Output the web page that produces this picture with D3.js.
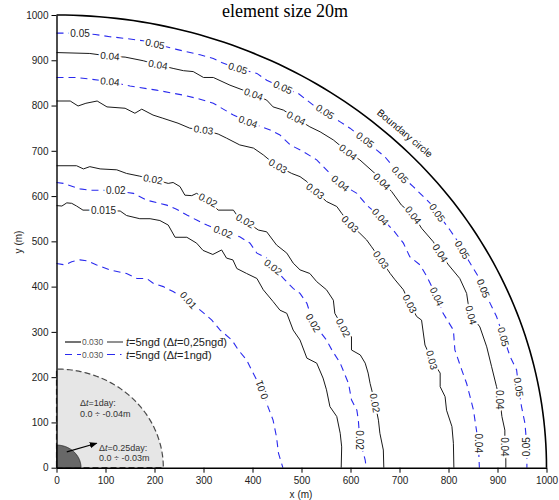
<!DOCTYPE html>
<html>
<head>
<meta charset="utf-8">
<script src="https://cdn.jsdelivr.net/npm/d3@7"></script>
<style>
  body { margin: 0; background: #fff; }
  text { font-family: Arial, "Liberation Sans", sans-serif; }
</style>
</head>
<body>
<script>
// contour lines in metres
// solid = t=5ngd (dt=0.25ngd), dashed = t=5ngd (dt=1ngd)
var solid015 = [[0,579],[11,578],[21,585],[31,584],[41,578],[54,569],[68,569],[97,568],[130,567],[143,557],[170,550],[191,550],[211,546],[228,536],[242,509],[266,509],[286,496],[299,480],[319,471],[337,481],[347,463],[360,459],[368,440],[388,429],[409,418],[422,393],[442,367],[456,348],[470,341],[483,304],[497,282],[511,242],[531,231],[544,198],[551,172],[558,135],[572,113],[579,76],[582,46],[581,0]];
var solid02 = [[0,667],[41,667],[55,660],[68,665],[89,660],[123,658],[143,650],[170,644],[197,637],[228,628],[238,630],[252,621],[262,602],[276,601],[286,606],[309,591],[330,569],[361,569],[368,558],[385,545],[412,525],[429,521],[449,492],[470,474],[483,452],[497,437],[517,429],[531,411],[551,393],[565,370],[568,341],[585,309],[602,289],[602,260],[620,249],[630,231],[636,209],[640,186],[650,143],[657,105],[660,76],[667,39],[668,0]];
var solid03 = [[0,810],[28,810],[44,799],[60,805],[83,810],[103,797],[140,794],[160,783],[174,792],[197,779],[217,772],[248,761],[272,750],[300,746],[330,737],[347,728],[374,713],[402,706],[422,691],[432,682],[452,666],[480,650],[497,643],[511,632],[528,611],[551,588],[572,577],[582,562],[599,538],[619,518],[633,503],[643,488],[662,459],[681,429],[691,415],[708,393],[721,362],[735,334],[745,326],[752,271],[766,238],[783,209],[783,179],[793,157],[796,127],[807,91],[810,54],[811,0]];
var solid04 = [[0,917],[68,915],[109,909],[140,907],[177,899],[207,890],[238,882],[259,877],[279,875],[300,862],[320,862],[354,845],[381,834],[402,825],[429,812],[442,797],[463,790],[489,772],[517,753],[538,742],[565,724],[595,697],[619,680],[653,647],[664,632],[684,610],[704,580],[728,558],[745,529],[769,499],[783,474],[800,448],[823,418],[837,385],[840,363],[846,337],[864,311],[878,267],[888,223],[898,179],[905,150],[909,113],[915,83],[915,46],[917,17],[917,0]];

var dashed01 = [[0,451],[17,448],[31,455],[48,459],[62,457],[82,448],[109,437],[143,429],[164,418],[184,418],[198,407],[218,400],[238,389],[269,370],[300,342],[317,326],[334,304],[358,282],[371,260],[388,238],[398,216],[419,172],[429,142],[442,105],[449,68],[453,32],[462,0]];
var dashed02 = [[0,630],[14,628],[48,616],[68,613],[96,613],[121,612],[157,606],[184,591],[225,580],[245,571],[266,558],[286,547],[307,536],[340,521],[374,510],[395,496],[409,474],[429,463],[442,443],[466,415],[483,396],[497,385],[511,363],[524,320],[551,282],[562,260],[579,231],[596,186],[602,150],[613,127],[616,105],[619,61],[630,17],[632,0]];
var dashed04 = [[0,862],[41,862],[109,853],[150,843],[204,834],[259,823],[293,814],[320,805],[361,779],[391,764],[436,746],[456,735],[477,713],[504,698],[531,680],[558,650],[579,628],[613,606],[633,580],[661,554],[687,525],[708,496],[721,466],[742,448],[756,422],[776,378],[789,341],[810,304],[813,260],[827,216],[837,186],[844,157],[851,127],[861,54],[863,0]];
var dashed05 = [[0,960],[24,960],[48,959],[79,957],[109,952],[143,948],[177,943],[201,936],[245,924],[293,912],[320,904],[337,895],[370,882],[409,871],[429,856],[462,840],[493,827],[524,801],[548,786],[579,764],[599,750],[630,724],[653,702],[670,687],[701,647],[728,621],[769,577],[777,563],[803,525],[817,503],[828,481],[844,452],[861,422],[871,396],[885,363],[898,334],[912,289],[926,245],[939,216],[943,178],[949,135],[956,98],[960,46],[960,0]];

// contour labels: [x, y, angle]
var solid015Labels = [[96,568,0]];
var solid02Labels = [[197,637,10],[309,591,28],[385,545,30],[585,309,62],[650,143,80]];
var solid03Labels = [[300,746,8],[452,666,30],[528,611,37],[599,538,45],[662,459,55],[721,362,63],[766,238,75]];
var solid04Labels = [[109,909,5],[207,890,10],[402,825,20],[489,772,28],[595,697,38],[664,632,45],[728,558,52],[783,474,58],[846,337,75],[905,150,90],[915,46,90]];
var dashed01Labels = [[269,370,48],[419,172,-110]];
var dashed02Labels = [[121,612,0],[340,521,22],[442,443,38],[524,320,60],[619,61,90]];
var dashed04Labels = [[109,853,5],[391,764,20],[579,628,40],[661,554,48],[776,378,65],[861,54,90]];
var dashed05Labels = [[48,959,0],[201,936,12],[370,882,18],[462,840,25],[548,786,33],[630,724,38],[701,647,48],[777,563,55],[828,481,60],[871,396,68],[912,289,75],[943,178,82],[960,46,-90]];

var xTicks = [0,100,200,300,400,500,600,700,800,900,1000];
var yTicks = [0,100,200,300,400,500,600,700,800,900,1000];
var boundaryRadius = 1000;
var zone1dayRadius = 218;
var zoneQuarterRadius = 50;

var solids = [
  { level: "0.015", pts: solid015, labels: solid015Labels },
  { level: "0.02", pts: solid02, labels: solid02Labels },
  { level: "0.03", pts: solid03, labels: solid03Labels },
  { level: "0.04", pts: solid04, labels: solid04Labels }
];
var dashes = [
  { level: "0.01", pts: dashed01, labels: dashed01Labels },
  { level: "0.02", pts: dashed02, labels: dashed02Labels },
  { level: "0.04", pts: dashed04, labels: dashed04Labels },
  { level: "0.05", pts: dashed05, labels: dashed05Labels }
];

var width = 559, height = 500;
var blue = "#2a2aee";
var xScale = d3.scaleLinear().domain([0, 1000]).range([56.5, 546.5]);
var yScale = d3.scaleLinear().domain([0, 1000]).range([467.7, 15]);

var svg = d3.select("body").append("svg")
  .attr("width", width)
  .attr("height", height);

// title at the top edge
svg.append("text")
  .attr("x", 285).attr("y", 17)
  .attr("text-anchor", "middle")
  .style("font-family", "'Liberation Serif', 'Times New Roman', serif")
  .style("font-size", "18px")
  .attr("fill", "#000")
  .text("element size 20m");

var line = d3.line().x(d => xScale(d[0])).y(d => yScale(d[1]));

function quarter(r) {
  return d3.range(0, 91, 1).map(t => [r * Math.cos(t * Math.PI / 180), r * Math.sin(t * Math.PI / 180)]);
}
function sector(r) {
  return [[0, 0]].concat(quarter(r)).concat([[0, 0]]);
}

// shaded zones near the origin
svg.append("path")
  .attr("d", line(sector(zone1dayRadius)))
  .attr("fill", "#e6e6e6")
  .attr("stroke", "#4a4a4a")
  .attr("stroke-width", 1.2)
  .attr("stroke-dasharray", "6,3");
svg.append("path")
  .attr("d", line(sector(zoneQuarterRadius)))
  .attr("fill", "#686868")
  .attr("stroke", "#222")
  .attr("stroke-width", 0.8);

// boundary circle
svg.append("path")
  .attr("d", line(quarter(boundaryRadius)))
  .attr("fill", "none")
  .attr("stroke", "#000")
  .attr("stroke-width", 1.6);
svg.append("text")
  .attr("transform", "translate(" + xScale(711) + "," + yScale(739) + ") rotate(40)")
  .attr("text-anchor", "middle")
  .attr("dy", "0.35em")
  .style("font-size", "10px")
  .attr("fill", "#111")
  .text("Boundary circle");

// contour lines
var g = svg.append("g");
g.selectAll(".solid").data(solids).enter().append("path")
  .attr("class", "solid")
  .attr("d", d => line(d.pts))
  .attr("fill", "none")
  .attr("stroke", "#1a1a1a")
  .attr("stroke-width", 1);
g.selectAll(".dash").data(dashes).enter().append("path")
  .attr("class", "dash")
  .attr("d", d => line(d.pts))
  .attr("fill", "none")
  .attr("stroke", blue)
  .attr("stroke-width", 1.1)
  .attr("stroke-dasharray", "7,5");

// contour labels with a white halo to break the line
var labelData = [];
solids.concat(dashes).forEach(c => c.labels.forEach(l => labelData.push({ text: c.level, p: l })));
g.selectAll(".clabel").data(labelData).enter().append("text")
  .attr("class", "clabel")
  .attr("transform", d => "translate(" + xScale(d.p[0]) + "," + yScale(d.p[1]) + ") rotate(" + d.p[2] + ")")
  .attr("text-anchor", "middle")
  .attr("dy", "0.35em")
  .style("font-size", "10px")
  .style("paint-order", "stroke")
  .attr("stroke", "#fff")
  .attr("stroke-width", 4)
  .attr("fill", "#222")
  .text(d => d.text);

// zone notes
var notes = svg.append("g").style("font-size", "9px").attr("fill", "#333");
notes.append("text").attr("x", 80).attr("y", 405.5)
  .html("&#916;<tspan font-style='italic'>t</tspan>=1day:");
notes.append("text").attr("x", 80).attr("y", 416.5).text("0.0 \u00f7 -0.04m");
notes.append("text").attr("x", 99).attr("y", 450.5)
  .html("&#916;<tspan font-style='italic'>t</tspan>=0.25day:");
notes.append("text").attr("x", 99).attr("y", 460.5).text("0.0 \u00f7 -0.03m");

svg.append("defs").append("marker")
  .attr("id", "arrow").attr("viewBox", "0 0 10 10")
  .attr("refX", 9).attr("refY", 5)
  .attr("markerWidth", 7).attr("markerHeight", 7)
  .attr("orient", "auto")
  .append("path").attr("d", "M0,1 L10,5 L0,9 Z").attr("fill", "#000");
svg.append("line")
  .attr("x1", xScale(21)).attr("y1", yScale(35))
  .attr("x2", xScale(82)).attr("y2", yScale(54))
  .attr("stroke", "#000").attr("stroke-width", 1.1)
  .attr("marker-end", "url(#arrow)");

// legend
var leg = svg.append("g");
leg.append("line").attr("x1", 65).attr("x2", 81).attr("y1", 342).attr("y2", 342)
  .attr("stroke", "#000").attr("stroke-width", 1.1);
leg.append("text").attr("x", 82).attr("y", 345).style("font-size", "8.5px").attr("fill", "#555").text("0.030");
leg.append("line").attr("x1", 107).attr("x2", 123).attr("y1", 342).attr("y2", 342)
  .attr("stroke", "#555").attr("stroke-width", 1.3);
leg.append("text").attr("x", 126).attr("y", 346).style("font-size", "11px").attr("fill", "#222")
  .html("<tspan font-style='italic'>t</tspan>=5ng\u0111 (&#916;<tspan font-style='italic'>t</tspan>=0,25ng\u0111)");

leg.append("line").attr("x1", 65).attr("x2", 81).attr("y1", 354.5).attr("y2", 354.5)
  .attr("stroke", blue).attr("stroke-width", 1.1).attr("stroke-dasharray", "7,5");
leg.append("text").attr("x", 82).attr("y", 357.5).style("font-size", "8.5px").attr("fill", "#555").text("0.030");
leg.append("line").attr("x1", 107).attr("x2", 123).attr("y1", 354.5).attr("y2", 354.5)
  .attr("stroke", blue).attr("stroke-width", 1.1).attr("stroke-dasharray", "8,5,1.5,5");
leg.append("text").attr("x", 126).attr("y", 358.5).style("font-size", "11px").attr("fill", "#222")
  .html("<tspan font-style='italic'>t</tspan>=5ng\u0111 (&#916;<tspan font-style='italic'>t</tspan>=1ng\u0111)");

// axes
var fmt = d3.format("d");
var xAxis = svg.append("g")
  .attr("transform", "translate(0," + yScale(0) + ")")
  .call(d3.axisBottom(xScale).tickValues(xTicks).tickFormat(fmt).tickSize(5).tickSizeOuter(0).tickPadding(4));
var yAxis = svg.append("g")
  .attr("transform", "translate(" + xScale(0) + ",0)")
  .call(d3.axisLeft(yScale).tickValues(yTicks).tickFormat(fmt).tickSize(5).tickSizeOuter(0).tickPadding(3));
[xAxis, yAxis].forEach(a => {
  a.select(".domain").attr("stroke", "#000").attr("stroke-width", 1.4);
  a.selectAll(".tick line").attr("stroke", "#000");
  a.selectAll(".tick text").style("font-size", "10px").style("font-family", "Arial, 'Liberation Sans', sans-serif").attr("fill", "#222");
});

svg.append("text").attr("x", 301).attr("y", 498)
  .attr("text-anchor", "middle").style("font-size", "10px").attr("fill", "#222").text("x (m)");
svg.append("text").attr("transform", "translate(22,242) rotate(-90)")
  .attr("text-anchor", "middle").style("font-size", "10px").attr("fill", "#222").text("y (m)");
</script>
</body>
</html>
